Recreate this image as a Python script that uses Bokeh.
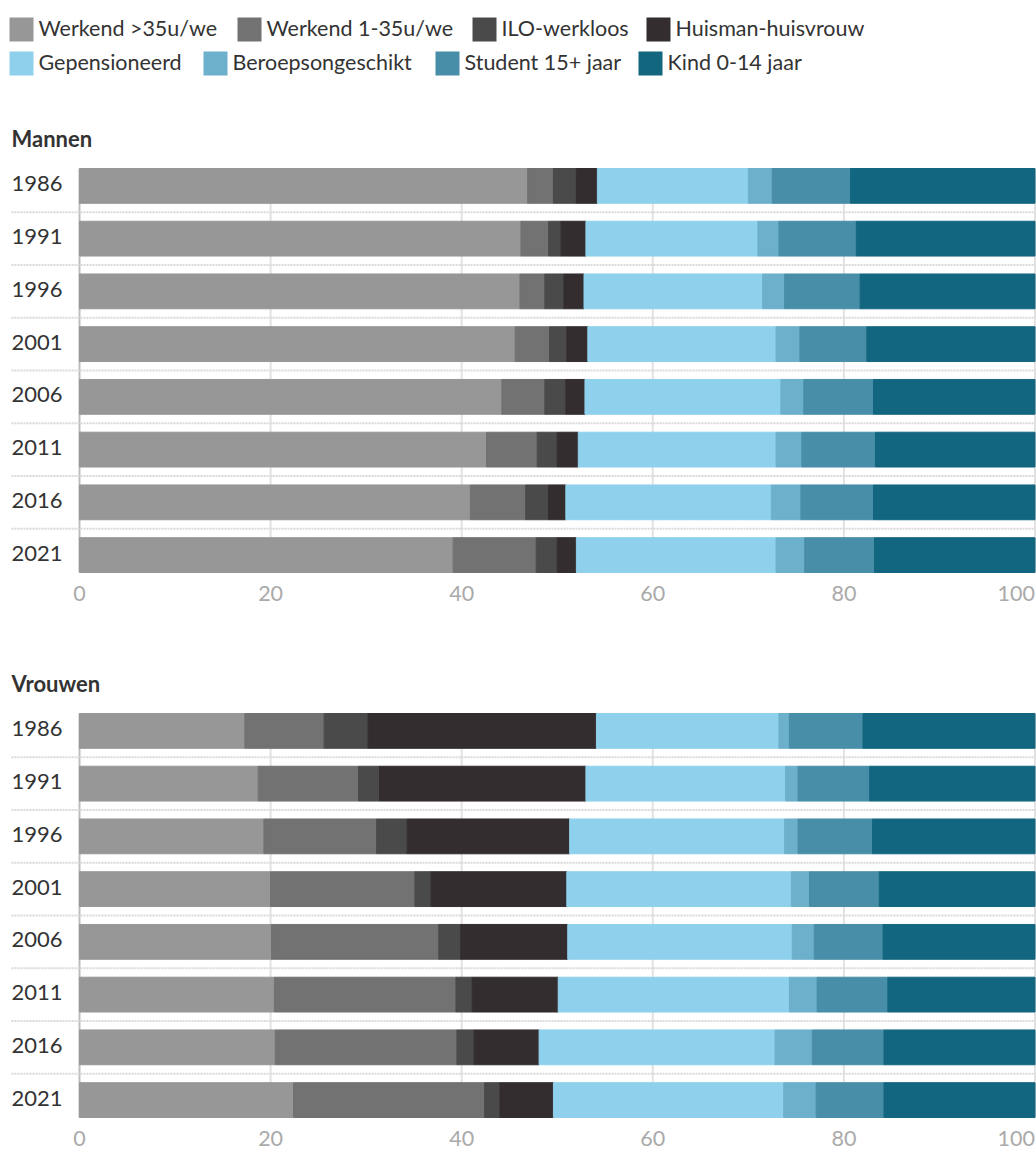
from bokeh.plotting import figure
from bokeh.models import Range1d, ColumnDataSource
from bokeh.layouts import column
from bokeh.embed import file_html
from bokeh.resources import INLINE
from bokeh.core.properties import value

FONT = "Lato"

years = ["1986", "1991", "1996", "2001", "2006", "2011", "2016", "2021"]
categories = ["Werkend >35u/we", "Werkend 1-35u/we", "ILO-werkloos", "Huisman-huisvrouw",
              "Gepensioneerd", "Beroepsongeschikt", "Student 15+ jaar", "Kind 0-14 jaar"]
colors = ["#979797", "#727272", "#4a4a4a", "#332d2f", "#8fd1ec", "#6cb0cc", "#488ea8", "#13667f"]
x_ticks = [0, 20, 40, 60, 80, 100]
x_tick_labels = ["0", "20", "40", "60", "80", "100"]

# Mannen (percent)
m_werkend_35 = [46.9, 46.2, 46.1, 45.6, 44.2, 42.6, 40.9, 39.1]
m_werkend_1_35 = [2.7, 2.9, 2.6, 3.6, 4.5, 5.3, 5.8, 8.7]
m_ilo = [2.4, 1.3, 2.0, 1.8, 2.2, 2.1, 2.4, 2.2]
m_huis = [2.2, 2.6, 2.1, 2.2, 2.0, 2.2, 1.8, 2.0]
m_gep = [15.8, 18.0, 18.7, 19.7, 20.5, 20.7, 21.5, 20.9]
m_ber = [2.5, 2.2, 2.3, 2.5, 2.4, 2.7, 3.1, 3.0]
m_stud = [8.2, 8.1, 7.9, 7.0, 7.3, 7.7, 7.6, 7.3]
m_kind = [19.3, 18.7, 18.3, 17.6, 16.9, 16.7, 16.9, 16.8]

# Vrouwen (percent)
v_werkend_35 = [17.3, 18.7, 19.3, 20.0, 20.1, 20.4, 20.5, 22.4]
v_werkend_1_35 = [8.3, 10.5, 11.8, 15.1, 17.5, 19.0, 19.0, 20.0]
v_ilo = [4.6, 2.2, 3.2, 1.7, 2.3, 1.7, 1.8, 1.6]
v_huis = [23.9, 21.6, 17.0, 14.2, 11.2, 9.0, 6.8, 5.6]
v_gep = [19.1, 20.9, 22.5, 23.5, 23.5, 24.2, 24.7, 24.1]
v_ber = [1.1, 1.3, 1.4, 1.9, 2.3, 2.9, 3.9, 3.4]
v_stud = [7.7, 7.5, 7.8, 7.3, 7.2, 7.4, 7.5, 7.1]
v_kind = [18.0, 17.3, 17.0, 16.3, 15.9, 15.4, 15.8, 15.8]

mannen = [m_werkend_35, m_werkend_1_35, m_ilo, m_huis, m_gep, m_ber, m_stud, m_kind]
vrouwen = [v_werkend_35, v_werkend_1_35, v_ilo, v_huis, v_gep, v_ber, v_stud, v_kind]

# ---------------- layout constants (pixels) ----------------
W = 1036
PX_X = 9.555            # px per x unit
ZERO_PX = 79            # pixel of x = 0
XL = -ZERO_PX / PX_X
XR = XL + W / PX_X
X_LABEL = (11 - ZERO_PX) / PX_X
BAR_H = 0.66
PX_Y = 52.742           # px per row
TEXT_SHIFT = 8.5        # svg baseline correction (px)
keys = ["k%d" % i for i in range(len(categories))]
TEXT_COLOR = "#333333"


def panel(title, series, height, top_px):
    n = len(years)
    y_top_bars = -BAR_H / 2
    y_bot_bars = n - 1 + BAR_H / 2
    bottom_px = height - top_px - (y_bot_bars - y_top_bars) * PX_Y
    data = dict(y=list(range(n)), year=years,
                y_lab=[i + (6.5 - TEXT_SHIFT) / PX_Y for i in range(n)])
    for k, s in zip(keys, series):
        data[k] = s
    src = ColumnDataSource(data)

    p = figure(width=W, height=height,
               x_range=Range1d(XL, XR),
               y_range=Range1d(y_bot_bars + bottom_px / PX_Y, y_top_bars - top_px / PX_Y),
               output_backend="svg", toolbar_location=None, min_border=0,
               x_axis_location=None, y_axis_location=None)
    p.grid.visible = False
    p.outline_line_color = None

    # vertical grid lines and zero line
    p.segment(x0=x_ticks[1:], x1=x_ticks[1:], y0=y_top_bars, y1=y_bot_bars,
              line_color="#e2e2e2", line_width=2)
    p.segment(x0=[x_ticks[0]], x1=[x_ticks[0]], y0=y_top_bars, y1=y_bot_bars,
              line_color="#bdbdbd", line_width=2)
    # dotted row separators
    seps = [i + 0.5 for i in range(n - 1)]
    p.segment(x0=X_LABEL, x1=x_ticks[-1], y0=seps, y1=seps,
              line_color="#d9d9d9", line_width=2, line_dash="2 1")

    p.hbar_stack(keys, y="y", height=BAR_H, color=colors, source=src)

    # title
    p.text(x=[X_LABEL], y=[y_top_bars - (22 + TEXT_SHIFT) / PX_Y], text=[title],
           text_align="left", text_baseline="alphabetic", text_font=value(FONT),
           text_font_size="22px", text_font_style="bold", text_color=TEXT_COLOR)
    # year labels
    p.text(x=X_LABEL, y="y_lab", text="year", source=src, text_align="left",
           text_baseline="alphabetic", text_font=value(FONT), text_font_size="22px",
           text_color=TEXT_COLOR)
    # x tick labels
    y_tick = y_bot_bars + (30.3 - TEXT_SHIFT - 1) / PX_Y
    p.text(x=x_ticks[:-1], y=y_tick, text=x_tick_labels[:-1], text_align="center",
           text_baseline="alphabetic", text_font=value(FONT), text_font_size="21.5px",
           text_color="#aaaaaa")
    p.text(x=x_ticks[-1:], y=y_tick, text=x_tick_labels[-1:], text_align="right",
           text_baseline="alphabetic", text_font=value(FONT), text_font_size="21.5px",
           text_color="#aaaaaa")
    return p


# ---------------- legend (pixel coordinates) ----------------
LH = 98
leg = figure(width=W, height=LH, x_range=Range1d(0, W), y_range=Range1d(LH, 0),
             output_backend="svg", toolbar_location=None, min_border=0,
             x_axis_location=None, y_axis_location=None)
leg.grid.visible = False
leg.outline_line_color = None
leg_left = [9, 237, 472, 646, 9, 203, 435, 638]
leg_row_y = [29, 29, 29, 29, 63, 63, 63, 63]
SQ = 24
leg.rect(x=[l + SQ / 2 for l in leg_left], y=leg_row_y, width=SQ, height=SQ,
         fill_color=colors, line_color=None)
leg.text(x=[l + 29 for l in leg_left], y=[r + 7.2 - TEXT_SHIFT for r in leg_row_y],
         text=categories, text_align="left", text_baseline="alphabetic",
         text_font=value(FONT), text_font_size="21.5px", text_color=TEXT_COLOR)

p1 = panel("Mannen", mannen, 545, 70)
p2 = panel("Vrouwen", vrouwen, 510, 70)

layout = column(leg, p1, p2, spacing=0)
open("out.html", "w").write(file_html(layout, INLINE))
